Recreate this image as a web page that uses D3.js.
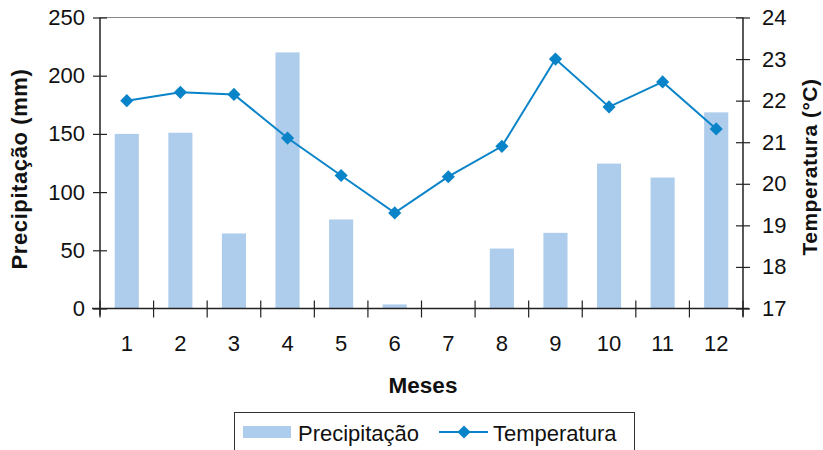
<!DOCTYPE html>
<html>
<head>
<meta charset="utf-8">
<script src="https://cdn.jsdelivr.net/npm/d3@7"></script>
<style>
  body { margin: 0; background: #fff; }
  svg { display: block; font-family: "Liberation Sans", Arial, Helvetica, sans-serif; }
</style>
</head>
<body>
<svg id="chart" width="823" height="450"></svg>
<script>
const months = ["1","2","3","4","5","6","7","8","9","10","11","12"];
const precipitation = [150, 151, 64.5, 220, 76.5, 3.5, 0, 51.5, 65, 124.5, 112.5, 168.5];
const temperature = [22.0, 22.2, 22.15, 21.1, 20.2, 19.3, 20.17, 20.9, 23.0, 21.85, 22.45, 21.32];
const precipTicks = [0, 50, 100, 150, 200, 250];
const tempTicks = [17, 18, 19, 20, 21, 22, 23, 24];

const svg = d3.select("#chart");
const L = 100, R = 743, T = 17.5, B = 308.5;
const barColor = "#aecdec", lineColor = "#0a84c8", axisColor = "#222";

const x = d3.scaleBand().domain(months).range([L, R]).paddingInner(0.55).paddingOuter(0.275);
const xb = d3.scaleBand().domain(months).range([L, R]).padding(0);
const yP = d3.scaleLinear().domain([0, 250]).range([B, T]);
const yT = d3.scaleLinear().domain([17, 24]).range([B, T]);

// top border
svg.append("line").attr("x1", L).attr("x2", R).attr("y1", T).attr("y2", T)
  .attr("stroke", "#888").attr("stroke-width", 1.2);

// bars
svg.append("g").selectAll("rect").data(precipitation).join("rect")
  .attr("x", (d, i) => x(months[i]))
  .attr("width", x.bandwidth())
  .attr("y", d => yP(d))
  .attr("height", d => B - yP(d))
  .attr("fill", barColor);

// left axis
const gL = svg.append("g").attr("transform", `translate(${L},0)`)
  .call(d3.axisLeft(yP).tickValues(precipTicks).tickFormat(d3.format("d")).tickSize(7).tickPadding(8));
gL.selectAll(".tick line").attr("x2", 7).attr("x1", -7);
// right axis
const gR = svg.append("g").attr("transform", `translate(${R},0)`)
  .call(d3.axisRight(yT).tickValues(tempTicks).tickFormat(d3.format("d")).tickSize(7).tickPadding(12));
gR.selectAll(".tick line").attr("x1", -7).attr("x2", 7);

[gL, gR].forEach(g => {
  g.select(".domain").remove();
  g.selectAll(".tick line").attr("stroke", axisColor).attr("stroke-width", 1.2);
  g.selectAll(".tick text").attr("font-size", 22).attr("fill", "#111").attr("font-family", "Liberation Sans, Arial, sans-serif");
});
svg.append("line").attr("x1", L).attr("x2", L).attr("y1", T).attr("y2", B + 7)
  .attr("stroke", axisColor).attr("stroke-width", 1.5);
svg.append("line").attr("x1", R).attr("x2", R).attr("y1", T).attr("y2", B + 8)
  .attr("stroke", axisColor).attr("stroke-width", 1.5);

// bottom axis
const gB = svg.append("g").attr("transform", `translate(0,${B})`)
  .call(d3.axisBottom(xb).tickSize(0).tickPadding(27));
gB.select(".domain").remove();
gB.selectAll(".tick text").attr("font-size", 22).attr("fill", "#111").attr("font-family", "Liberation Sans, Arial, sans-serif");
svg.append("line").attr("x1", L - 8).attr("x2", R + 6).attr("y1", B).attr("y2", B)
  .attr("stroke", axisColor).attr("stroke-width", 1.5);
const boundaries = months.map(m => xb(m)).concat([xb(months[months.length - 1]) + xb.bandwidth()]);
svg.append("g").selectAll("line").data(boundaries).join("line")
  .attr("x1", d => d).attr("x2", d => d).attr("y1", B - 8).attr("y2", B + 9)
  .attr("stroke", axisColor).attr("stroke-width", 1.2);

// temperature line
const line = d3.line().x((d, i) => xb(months[i]) + xb.bandwidth() / 2).y(d => yT(d));
svg.append("path").datum(temperature).attr("d", line)
  .attr("fill", "none").attr("stroke", lineColor).attr("stroke-width", 2);
const diamond = d3.symbol().type(d3.symbolDiamond2).size(110);
svg.append("g").selectAll("path").data(temperature).join("path")
  .attr("d", diamond)
  .attr("transform", (d, i) => `translate(${xb(months[i]) + xb.bandwidth() / 2},${yT(d)})`)
  .attr("fill", lineColor);

// axis titles
svg.append("text").attr("transform", "translate(27,169) rotate(-90)")
  .attr("text-anchor", "middle").attr("font-size", 22).attr("font-weight", "bold")
  .attr("letter-spacing", 0.6).attr("fill", "#111").text("Precipitação (mm)");
svg.append("text").attr("transform", "translate(817,167) rotate(-90)")
  .attr("text-anchor", "middle").attr("font-size", 21).attr("font-weight", "bold")
  .attr("letter-spacing", 0.5).attr("fill", "#111").text("Temperatura (°C)");
svg.append("text").attr("x", 423).attr("y", 393)
  .attr("text-anchor", "middle").attr("font-size", 22.5).attr("font-weight", "bold")
  .attr("fill", "#111").text("Meses");

// legend
const lg = svg.append("g");
lg.append("rect").attr("x", 234.5).attr("y", 412.5).attr("width", 400).attr("height", 45)
  .attr("fill", "none").attr("stroke", "#333").attr("stroke-width", 1);
lg.append("rect").attr("x", 243).attr("y", 426).attr("width", 48).attr("height", 12).attr("fill", barColor);
lg.append("text").attr("x", 298).attr("y", 441).attr("font-size", 22).attr("fill", "#111").text("Precipitação");
lg.append("line").attr("x1", 439).attr("x2", 488).attr("y1", 432).attr("y2", 432)
  .attr("stroke", lineColor).attr("stroke-width", 2);
lg.append("path").attr("d", diamond).attr("transform", "translate(464,432)").attr("fill", lineColor);
lg.append("text").attr("x", 493).attr("y", 441).attr("font-size", 22).attr("fill", "#111").text("Temperatura");
</script>
</body>
</html>
